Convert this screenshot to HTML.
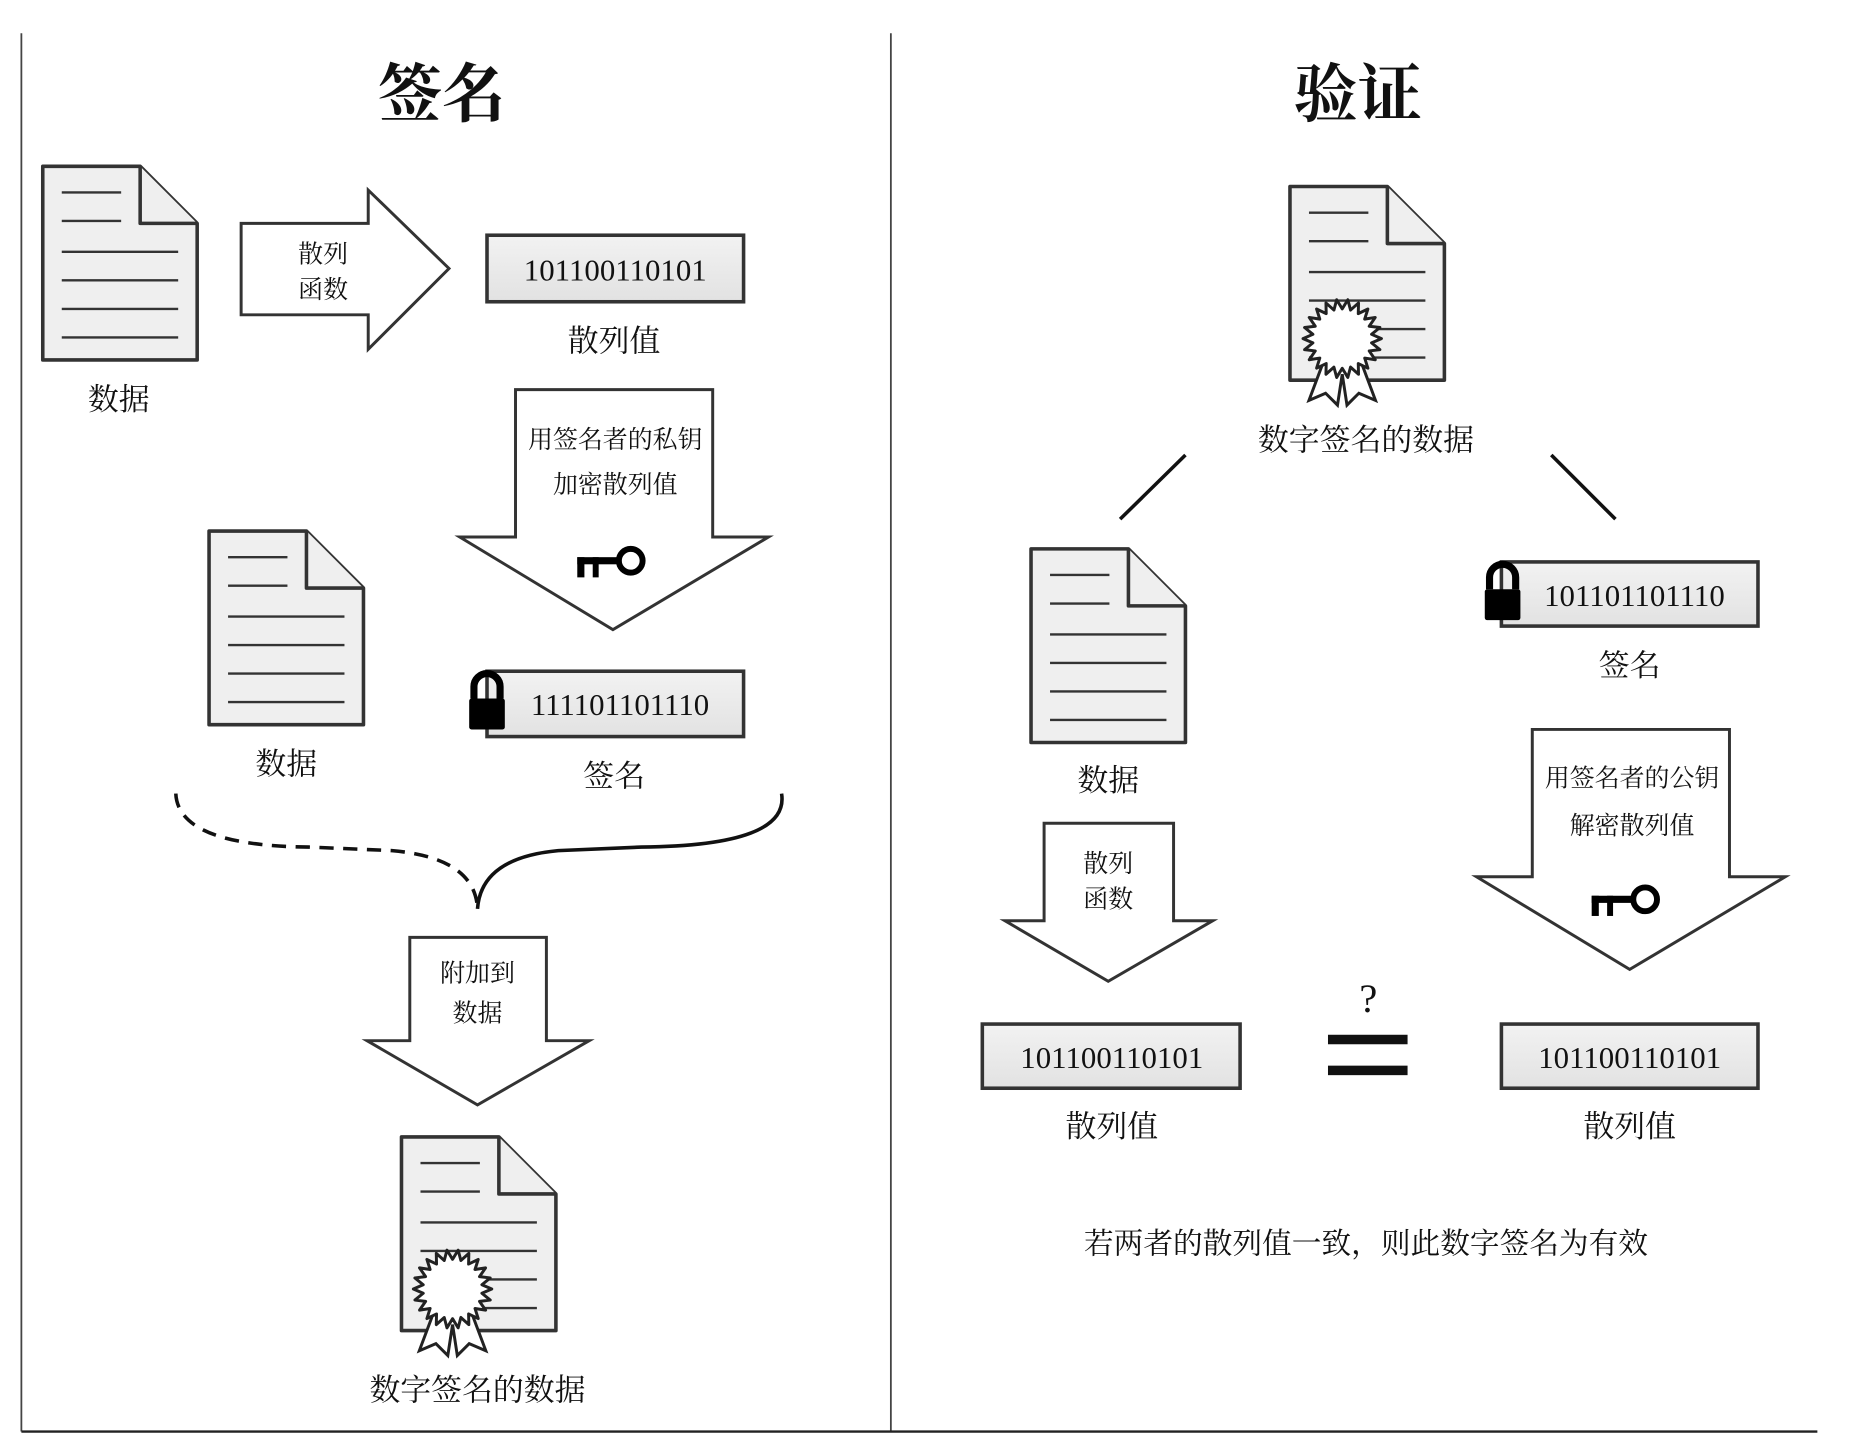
<!DOCTYPE html>
<html><head><meta charset="utf-8"><style>
html,body{margin:0;padding:0;background:#fff}
svg{display:block}
text{font-family:"Liberation Serif","Noto Serif CJK SC",serif;fill:#111;text-anchor:middle}
.doc{fill:#efefef;stroke:#333;stroke-width:3;stroke-linejoin:round}
.dl{stroke:#333;stroke-width:2}
.ar{fill:#fff;stroke:#333;stroke-width:2.5;stroke-linejoin:miter}
.bx{fill:url(#g);stroke:#333;stroke-width:3}
.lbl{font-size:26px}
.num{font-size:26px}
.in{font-size:21px}
</style></head><body>
<svg width="1853" height="1447" viewBox="0 0 1560 1218" preserveAspectRatio="none" xmlns="http://www.w3.org/2000/svg">
<defs>
<linearGradient id="g" x1="0" y1="0" x2="0" y2="1"><stop offset="0" stop-color="#f2f2f2"/><stop offset="1" stop-color="#e2e2e2"/></linearGradient>
<g id="doc">
<path class="doc" d="M0,0 H82 L130,48 V163 H0 Z"/>
<path class="doc" d="M82,0 V48 H130" fill="none"/>
<line class="dl" x1="16" y1="22" x2="66" y2="22"/>
<line class="dl" x1="16" y1="46" x2="66" y2="46"/>
<line class="dl" x1="16" y1="72" x2="114" y2="72"/>
<line class="dl" x1="16" y1="96" x2="114" y2="96"/>
<line class="dl" x1="16" y1="120" x2="114" y2="120"/>
<line class="dl" x1="16" y1="144" x2="114" y2="144"/>
</g>
<g id="key">
<circle cx="13" cy="0" r="10" fill="none" stroke="#000" stroke-width="5"/>
<rect x="-32" y="-3" width="34" height="6" fill="#000"/>
<rect x="-32" y="-3" width="6" height="17" fill="#000"/>
<rect x="-19" y="-3" width="5" height="17" fill="#000"/>
</g>
<g id="lock">
<path d="M4,6 V-4 A11,11 0 0 1 26,-4 V6" fill="none" stroke="#000" stroke-width="6"/>
<rect x="0" y="6" width="30" height="26" rx="2" fill="#000"/>
</g>
<g id="seal">
<path d="M-16,20 L-28,52 L-14,46 L-4,56 L0,30 L4,56 L14,46 L28,52 L16,20 Z" fill="#fff" stroke="#222" stroke-width="2.5"/>
<polygon fill="#fff" stroke="#222" stroke-width="2.5" stroke-linejoin="round" points="33,0 24.7,3.6 31.7,9.3 22.7,10.4 27.8,17.8 18.9,16.4 21.6,24.9 13.5,21 13.7,30 7,24 4.7,32.7 0,25 -4.7,32.7 -7,24 -13.7,30 -13.5,21 -21.6,24.9 -18.9,16.4 -27.8,17.8 -22.7,10.4 -31.7,9.3 -24.7,3.6 -33,0 -24.7,-3.6 -31.7,-9.3 -22.7,-10.4 -27.8,-17.8 -18.9,-16.4 -21.6,-24.9 -13.5,-21 -13.7,-30 -7,-24 -4.7,-32.7 0,-25 4.7,-32.7 7,-24 13.7,-30 13.5,-21 21.6,-24.9 18.9,-16.4 27.8,-17.8 22.7,-10.4 31.7,-9.3 24.7,-3.6"/>
</g>
</defs>

<line x1="18" y1="28" x2="18" y2="1205" stroke="#444" stroke-width="1.5"/>
<line x1="750" y1="28" x2="750" y2="1205" stroke="#444" stroke-width="1.5"/>
<line x1="18" y1="1205" x2="1530" y2="1205" stroke="#222" stroke-width="2"/>

<text x="372" y="98" font-size="54" font-weight="bold">签名</text>
<text x="1143" y="98" font-size="54" font-weight="bold">验证</text>

<!-- LEFT -->
<use href="#doc" x="36" y="140"/>
<text class="lbl" x="100" y="345">数据</text>

<path class="ar" d="M203,188 H310 V160 L378,226 L310,294 V265 H203 Z"/>
<text class="in" x="272" y="221">散列</text>
<text class="in" x="272" y="251">函数</text>

<rect class="bx" x="410" y="198" width="216" height="56"/>
<text class="num" x="518" y="236">101100110101</text>
<text class="lbl" x="517" y="296">散列值</text>

<path class="ar" d="M434,328 H600 V452 H647 L516,530 L387,452 H434 Z"/>
<text class="in" x="518" y="377">用签名者的私钥</text>
<text class="in" x="518" y="415">加密散列值</text>
<use href="#key" x="518" y="472"/>

<use href="#doc" x="176" y="447"/>
<text class="lbl" x="241" y="652">数据</text>

<rect class="bx" x="410" y="565" width="216" height="55"/>
<use href="#lock" x="395" y="582"/>
<text class="num" x="522" y="602">111101101110</text>
<text class="lbl" x="517" y="662">签名</text>

<path d="M148,668 Q150,712 260,713 L330,716 Q400,722 402,765" fill="none" stroke="#111" stroke-width="3" stroke-dasharray="12,8"/>
<path d="M658,668 Q665,712 540,713 L470,716 Q405,722 402,765" fill="none" stroke="#111" stroke-width="3"/>

<path class="ar" d="M345,789 H460 V876 H496 L402,930 L309,876 H345 Z"/>
<text class="in" x="402" y="826">附加到</text>
<text class="in" x="402" y="860">数据</text>

<use href="#doc" x="338" y="957"/>
<use href="#seal" x="381" y="1085"/>
<text class="lbl" x="402" y="1179">数字签名的数据</text>

<!-- RIGHT -->
<use href="#doc" x="1086" y="157"/>
<use href="#seal" x="1130" y="285"/>
<text class="lbl" x="1150" y="379">数字签名的数据</text>

<line x1="943" y1="437" x2="998" y2="383" stroke="#111" stroke-width="3"/>
<line x1="1306" y1="383" x2="1360" y2="437" stroke="#111" stroke-width="3"/>

<use href="#doc" x="868" y="462"/>
<text class="lbl" x="933" y="666">数据</text>

<rect class="bx" x="1264" y="473" width="216" height="54"/>
<use href="#lock" x="1250" y="490"/>
<text class="num" x="1376" y="510">101101101110</text>
<text class="lbl" x="1372" y="569">签名</text>

<path class="ar" d="M879,693 H988 V775 H1021 L933,826 L846,775 H879 Z"/>
<text class="in" x="933" y="734">散列</text>
<text class="in" x="933" y="764">函数</text>

<path class="ar" d="M1290,614 H1456 V738 H1503 L1372,816 L1243,738 H1290 Z"/>
<text class="in" x="1374" y="662">用签名者的公钥</text>
<text class="in" x="1374" y="702">解密散列值</text>
<use href="#key" x="1372" y="757"/>

<text x="1152" y="852" font-size="34">?</text>
<rect x="1118" y="871" width="67" height="8" fill="#111"/>
<rect x="1118" y="897" width="67" height="8" fill="#111"/>

<rect class="bx" x="827" y="862" width="217" height="54"/>
<text class="num" x="936" y="899">101100110101</text>
<rect class="bx" x="1264" y="862" width="216" height="54"/>
<text class="num" x="1372" y="899">101100110101</text>
<text class="lbl" x="936" y="957">散列值</text>
<text class="lbl" x="1372" y="957">散列值</text>

<text x="1150" y="1055" font-size="25">若两者的散列值一致，则此数字签名为有效</text>
</svg>
</body></html>
